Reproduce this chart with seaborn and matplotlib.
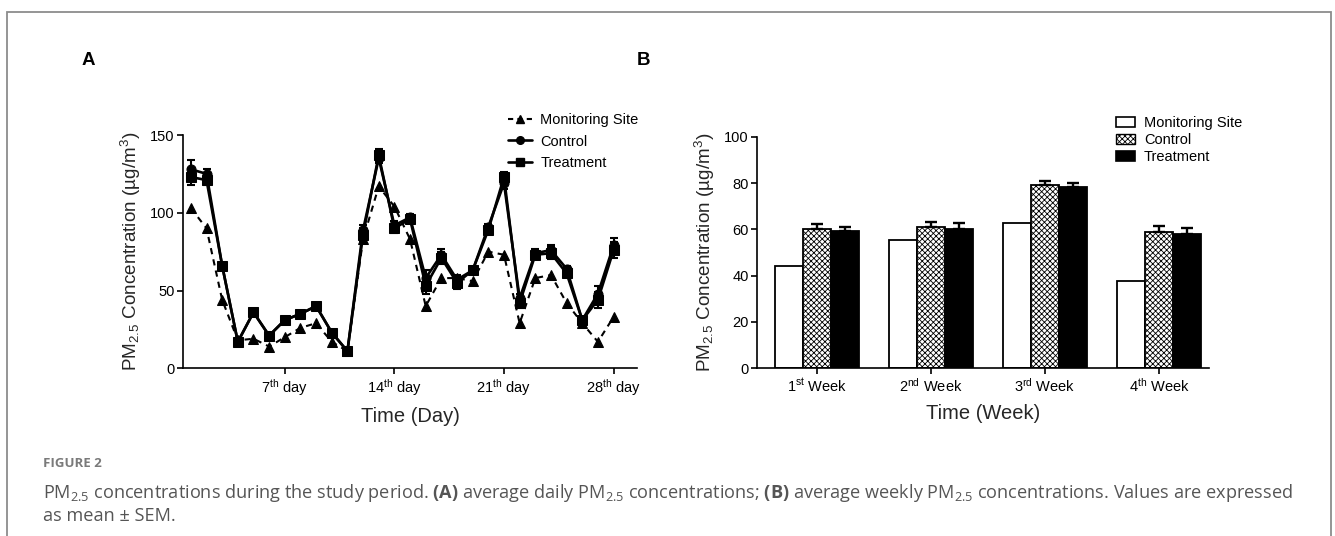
import matplotlib
matplotlib.use("Agg")
import matplotlib.pyplot as plt
from matplotlib.lines import Line2D
from matplotlib.patches import Patch, Rectangle
import numpy as np
import pandas as pd
import seaborn as sns

# ---------------- data ----------------
days = list(range(1, 29))
monitoring = [103, 90, 44, 18, 19, 14, 20, 26, 29, 17, 11, 83, 117, 104, 83, 40,
              58, 58, 56, 75, 73, 29, 58, 60, 42, 29, 17, 33]
control = [128, 125, 66, 17, 36, 21, 31, 35, 40, 23, 11, 89, 135, 92, 97, 58,
           73, 57, 63, 91, 119, 45, 74, 76, 64, 31, 48, 79]
treatment = [123, 121, 66, 17, 36, 21, 31, 35, 40, 23, 11, 86, 137, 90, 96, 53,
             71, 55, 63, 89, 123, 42, 73, 74, 61, 31, 44, 76]
control_sem = [6, 3, 1, 1, 1, 1, 1, 1, 1, 1, 1, 3, 3, 3, 2, 5,
               4, 3, 2, 2, 4, 3, 3, 3, 2, 2, 5, 5]
treatment_sem = [5, 3, 1, 1, 1, 1, 1, 1, 1, 1, 1, 4, 4, 3, 2, 5,
                 4, 4, 2, 2, 3, 3, 3, 4, 2, 2, 5, 5]
day_ticks = [7, 14, 21, 28]
day_ticklabels = ['7$^{th}$ day', '14$^{th}$ day', '21$^{th}$ day', '28$^{th}$ day']

weeks = ['1$^{st}$ Week', '2$^{nd}$ Week', '3$^{rd}$ Week', '4$^{th}$ Week']
monitoring_week = [44, 55.5, 62.8, 37.5]
control_week = [60.3, 61.0, 79.3, 58.8]
treatment_week = [59.2, 60.2, 78.5, 58.0]
control_week_sem = [2.0, 2.3, 1.5, 2.8]
treatment_week_sem = [1.8, 2.4, 1.6, 2.8]

groups = ['Monitoring Site', 'Control', 'Treatment']

# ---------------- style ----------------
sns.set_theme(style='ticks')
plt.rcParams['font.family'] = ['Liberation Sans', 'DejaVu Sans']
plt.rcParams['mathtext.default'] = 'regular'
plt.rcParams['mathtext.fontset'] = 'custom'
plt.rcParams['mathtext.bf'] = 'Open Sans:bold'
plt.rcParams['hatch.linewidth'] = 0.6
plt.rcParams['axes.linewidth'] = 1.2
plt.rcParams['xtick.major.width'] = 1.2
plt.rcParams['ytick.major.width'] = 1.2
plt.rcParams['xtick.major.size'] = 4
plt.rcParams['ytick.major.size'] = 4
plt.rcParams['xtick.color'] = 'black'
plt.rcParams['ytick.color'] = 'black'
plt.rcParams['axes.edgecolor'] = 'black'
plt.rcParams['text.color'] = 'black'

fig = plt.figure(figsize=(13.35, 5.36), dpi=100)
fig.patch.set_facecolor('white')

# border frame
fig.add_artist(Rectangle((7 / 1335, -0.05), (1331 - 7) / 1335, 1.05 - 12 / 536,
                         transform=fig.transFigure, fill=False,
                         edgecolor='#8c8c8c', linewidth=1.3))

ylabel = 'PM$_{2.5}$ Concentration (µg/m$^3$)'

# ---------------- Panel A ----------------
axA = fig.add_axes([0.1371, 0.3129, 0.3401, 0.4352])
dfA = pd.DataFrame({
    'day': days * 3,
    'value': monitoring + control + treatment,
    'group': [groups[0]] * 28 + [groups[1]] * 28 + [groups[2]] * 28,
})
sns.lineplot(data=dfA, x='day', y='value', hue='group', style='group',
             palette={g: 'black' for g in groups},
             markers={'Monitoring Site': '^', 'Control': 'o', 'Treatment': 's'},
             dashes={'Monitoring Site': (3, 2.5), 'Control': '', 'Treatment': ''},
             linewidth=1.9, markersize=6.5, markeredgecolor='black',
             legend=False, ax=axA)
for vals, sems in [(control, control_sem), (treatment, treatment_sem)]:
    axA.errorbar(days, vals, yerr=sems, fmt='none', ecolor='black',
                 elinewidth=1.5, capsize=3.2, capthick=1.5, zorder=3)
for ln in axA.lines[:1]:
    ln.set_linewidth(1.5)
axA.set_xlim(0.5, 29.5)
axA.set_ylim(0, 150)
axA.set_yticks([0, 50, 100, 150])
axA.set_xticks(day_ticks)
axA.set_xticklabels(day_ticklabels)
axA.tick_params(labelsize=10.5, pad=2)
axA.set_xlabel('Time (Day)', fontsize=14.5, labelpad=7)
axA.set_ylabel(ylabel, fontsize=13.6, labelpad=5)
sns.despine(ax=axA)

handlesA = [
    Line2D([], [], color='black', linestyle=(0, (2.5, 2)), linewidth=1.5, marker='^', markersize=5.5),
    Line2D([], [], color='black', linewidth=1.9, marker='o', markersize=5.5),
    Line2D([], [], color='black', linewidth=1.9, marker='s', markersize=5.5),
]
fig.legend(handlesA, groups, loc='upper left', bbox_to_anchor=(501 / 1335, 1 - 106 / 536),
           frameon=False, fontsize=10.5, handlelength=1.6, handletextpad=0.6,
           labelspacing=0.5, borderpad=0)

# ---------------- Panel B ----------------
axB = fig.add_axes([0.567, 0.3129, 0.3386, 0.432])
dfB = pd.DataFrame({
    'week': weeks * 3,
    'value': monitoring_week + control_week + treatment_week,
    'group': [groups[0]] * 4 + [groups[1]] * 4 + [groups[2]] * 4,
})
sns.barplot(data=dfB, x='week', y='value', hue='group', hue_order=groups,
            palette={'Monitoring Site': 'white', 'Control': 'white', 'Treatment': 'black'},
            edgecolor='black', linewidth=1.3, width=0.74, gap=0,
            errorbar=None, legend=False, ax=axB)
bars = [p for p in axB.patches if isinstance(p, Rectangle)]
sem_map = {1: control_week_sem, 2: treatment_week_sem}
for gi in range(3):
    for wi in range(4):
        p = bars[gi * 4 + wi]
        if gi == 1:
            p.set_hatch('xxxxxx')
        if gi in sem_map:
            xc = p.get_x() + p.get_width() / 2
            h = p.get_height()
            axB.errorbar([xc], [h], yerr=[[0], [sem_map[gi][wi]]], fmt='none',
                         ecolor='black', elinewidth=1.7, capsize=4.5, capthick=1.7,
                         zorder=1)
axB.set_xlim(-0.53, 3.44)
axB.set_ylim(0, 100)
axB.set_yticks([0, 20, 40, 60, 80, 100])
axB.tick_params(labelsize=10.5, pad=2)
axB.set_xlabel('Time (Week)', fontsize=14.5, labelpad=7)
axB.set_ylabel(ylabel, fontsize=13.6, labelpad=5)
sns.despine(ax=axB)

handlesB = [
    Patch(facecolor='white', edgecolor='black', linewidth=1.2),
    Patch(facecolor='white', edgecolor='black', linewidth=1.0, hatch='xxxxxx'),
    Patch(facecolor='black', edgecolor='black', linewidth=1.2),
]
fig.legend(handlesB, groups, loc='upper left', bbox_to_anchor=(1109 / 1335, 1 - 109 / 536),
           frameon=False, fontsize=10.5, handlelength=1.25, handleheight=0.7,
           handletextpad=0.65, labelspacing=0.2, borderpad=0)

# panel letters
fig.text(82 / 1335, 1 - 65 / 536, 'A', fontsize=13.5, fontweight='bold')
fig.text(637 / 1335, 1 - 65 / 536, 'B', fontsize=13.5, fontweight='bold')

# caption
cap_font = ['Open Sans', 'DejaVu Sans']
fig.text(43 / 1335, 1 - 467 / 536, 'FIGURE 2', fontsize=9.5, fontweight='bold',
         color='#7a7a7a', family=cap_font)
fig.text(43 / 1335, 1 - 498 / 536,
         'PM$_{2.5}$ concentrations during the study period. $\\mathbf{(A)}$ average daily '
         'PM$_{2.5}$ concentrations; $\\mathbf{(B)}$ average weekly PM$_{2.5}$ concentrations. '
         'Values are expressed',
         fontsize=13.1, color='#555555', family=cap_font)
fig.text(43 / 1335, 1 - 521 / 536, 'as mean ± SEM.', fontsize=13.1, color='#555555',
         family=cap_font)

fig.savefig('out.png', dpi=100, facecolor='white')
